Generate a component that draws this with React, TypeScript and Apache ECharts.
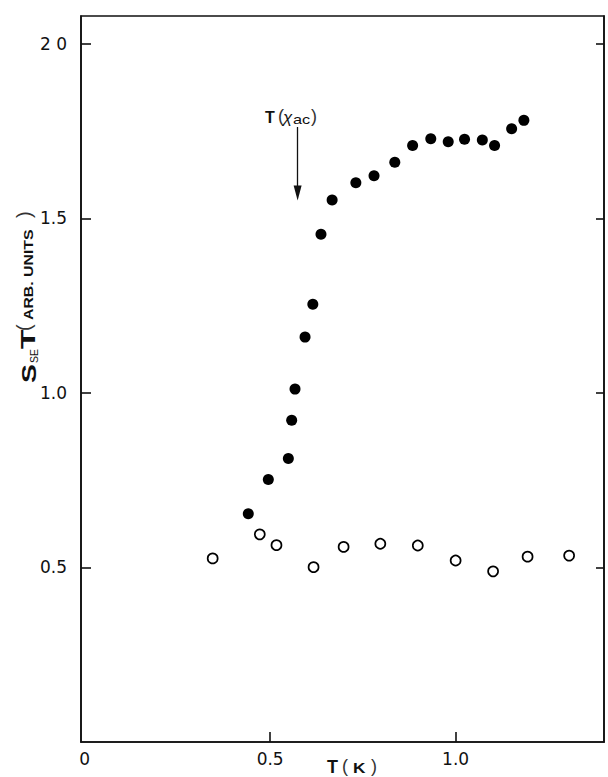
import { useEffect, useRef } from "react";
import * as echarts from "echarts";

// Temperature (K) and S_SE·T (arb. units), ordered sample (filled circles)
const orderedT = [
  0.441, 0.495, 0.549, 0.558, 0.567, 0.594, 0.615, 0.637, 0.667, 0.731,
  0.78, 0.836, 0.884, 0.933, 0.98, 1.024, 1.072, 1.105, 1.151, 1.184,
];
const orderedS = [
  0.654, 0.752, 0.812, 0.922, 1.011, 1.16, 1.254, 1.455, 1.553, 1.602,
  1.622, 1.661, 1.709, 1.728, 1.72, 1.727, 1.725, 1.709, 1.757, 1.781,
];

// Reference sample (open circles)
const refT = [0.345, 0.472, 0.517, 0.617, 0.698, 0.797, 0.898, 1.0, 1.101, 1.194, 1.306];
const refS = [0.526, 0.595, 0.564, 0.501, 0.559, 0.568, 0.563, 0.52, 0.489, 0.531, 0.534];

// Axis ticks and labels
const xTicks = [0.5, 1.0];
const xLabels = [0, 0.5, 1.0];
const yTicks = [0.5, 1.0, 1.5, 2.0];

// Arrow marking T(χac)
const arrowT = 0.574;
const arrowTop = 1.762;
const arrowEnd = 1.573;

const INK = "#111";
const SANS = "'Liberation Sans', Arial, sans-serif";

export default function App() {
  const ref = useRef<HTMLDivElement>(null);

  useEffect(() => {
    const chart = echarts.init(ref.current!, null, { renderer: "svg" });

    const txt = (
      text: string,
      x: number,
      y: number,
      size: number,
      opts: Record<string, any> = {}
    ) => ({
      type: "text",
      x,
      y,
      scaleX: opts.scaleX ?? 1,
      silent: true,
      style: {
        text,
        fontSize: size,
        fontFamily: opts.family ?? SANS,
        fontWeight: opts.weight ?? "normal",
        fontStyle: opts.style ?? "normal",
        fill: opts.fill ?? INK,
        align: opts.align ?? "left",
        verticalAlign: "middle",
      },
    });

    chart.setOption({
      animation: false,
      backgroundColor: "#fff",
      grid: {
        left: 81,
        right: 4,
        top: 16,
        bottom: 35,
        show: true,
        borderColor: INK,
        borderWidth: 1.6,
        backgroundColor: "transparent",
      },
      xAxis: {
        type: "value",
        min: -0.01,
        max: 1.4,
        axisLine: { show: true, onZero: false, lineStyle: { color: INK, width: 1.6 } },
        axisTick: {
          show: true,
          inside: true,
          length: 10,
          customValues: xTicks,
          lineStyle: { color: INK, width: 1.6 },
        },
        axisLabel: {
          customValues: xLabels,
          formatter: (v: number) => (v === 0 ? "0" : v.toFixed(1)),
          color: INK,
          fontFamily: "'DejaVu Sans', sans-serif",
          fontSize: 17,
          margin: 8,
        },
        splitLine: { show: false },
      },
      yAxis: [
        {
          type: "value",
          min: 0,
          max: 2.08,
          axisLine: { show: true, onZero: false, lineStyle: { color: INK, width: 1.6 } },
          axisTick: {
            show: true,
            inside: true,
            length: 10,
            customValues: yTicks,
            lineStyle: { color: INK, width: 1.6 },
          },
          axisLabel: {
            customValues: yTicks,
            formatter: (v: number) => (v === 2 ? "2 0" : v.toFixed(1)),
            color: INK,
            fontFamily: "'DejaVu Sans', sans-serif",
            fontSize: 17,
            margin: 14,
          },
          splitLine: { show: false },
        },
        {
          type: "value",
          position: "right",
          min: 0,
          max: 2.08,
          axisLine: { show: true, onZero: false, lineStyle: { color: INK, width: 1.6 } },
          axisTick: {
            show: true,
            inside: true,
            length: 8,
            customValues: yTicks,
            lineStyle: { color: INK, width: 1.6 },
          },
          axisLabel: { show: false },
          splitLine: { show: false },
        },
      ],
      series: [
        {
          type: "scatter",
          name: "ordered",
          data: orderedT.map((t, i) => [t, orderedS[i]]),
          symbol: "circle",
          symbolSize: 11,
          itemStyle: { color: "#000", opacity: 1 },
          silent: true,
          markLine: {
            silent: true,
            symbol: ["none", "triangle"],
            symbolSize: [8, 15],
            label: { show: false },
            lineStyle: { color: INK, width: 1.3, type: "solid", opacity: 1 },
            data: [[{ coord: [arrowT, arrowTop] }, { coord: [arrowT, arrowEnd] }]],
          },
        },
        {
          type: "scatter",
          name: "reference",
          data: refT.map((t, i) => [t, refS[i]]),
          symbol: "circle",
          symbolSize: 10,
          itemStyle: { color: "#fff", borderColor: "#000", borderWidth: 1.7, opacity: 1 },
          silent: true,
        },
      ],
      graphic: [
        // T(χac) annotation
        txt("T", 265, 117, 16, { weight: "bold" }),
        txt("(", 278, 116, 18, { fill: "#333" }),
        txt("χ", 283, 117, 17, { style: "italic" }),
        txt("ac", 293, 120, 13, { scaleX: 1.25 }),
        txt(")", 311, 116, 18, { fill: "#333" }),
        // x-axis title: T(K)
        txt("T", 327, 767, 18, { weight: "bold" }),
        txt("(", 342, 766, 18, { fill: "#333" }),
        txt("K", 353, 767, 15, { weight: "bold", scaleX: 1.15 }),
        txt(")", 371, 766, 18, { fill: "#333" }),
        // y-axis title: S_SE T (ARB. UNITS), read bottom to top
        {
          type: "group",
          x: 28,
          y: 383,
          rotation: Math.PI / 2,
          silent: true,
          children: [
            txt("S", 0, 0, 21, { weight: "bold", scaleX: 1.35 }),
            txt("SE", 20, 6, 10.5),
            txt("T", 34, 0, 21, { weight: "bold", scaleX: 1.5 }),
            txt("(", 52, -4, 20, { fill: "#333" }),
            txt("ARB. UNITS", 63, 1, 12, { weight: "bold", scaleX: 1.32 }),
            txt(")", 165, -4, 20, { fill: "#333" }),
          ],
        },
      ],
    });

    return () => chart.dispose();
  }, []);

  return (
    <div
      ref={ref}
      style={{ position: "absolute", left: 0, top: 0, width: 608, height: 777, background: "#fff" }}
    />
  );
}
